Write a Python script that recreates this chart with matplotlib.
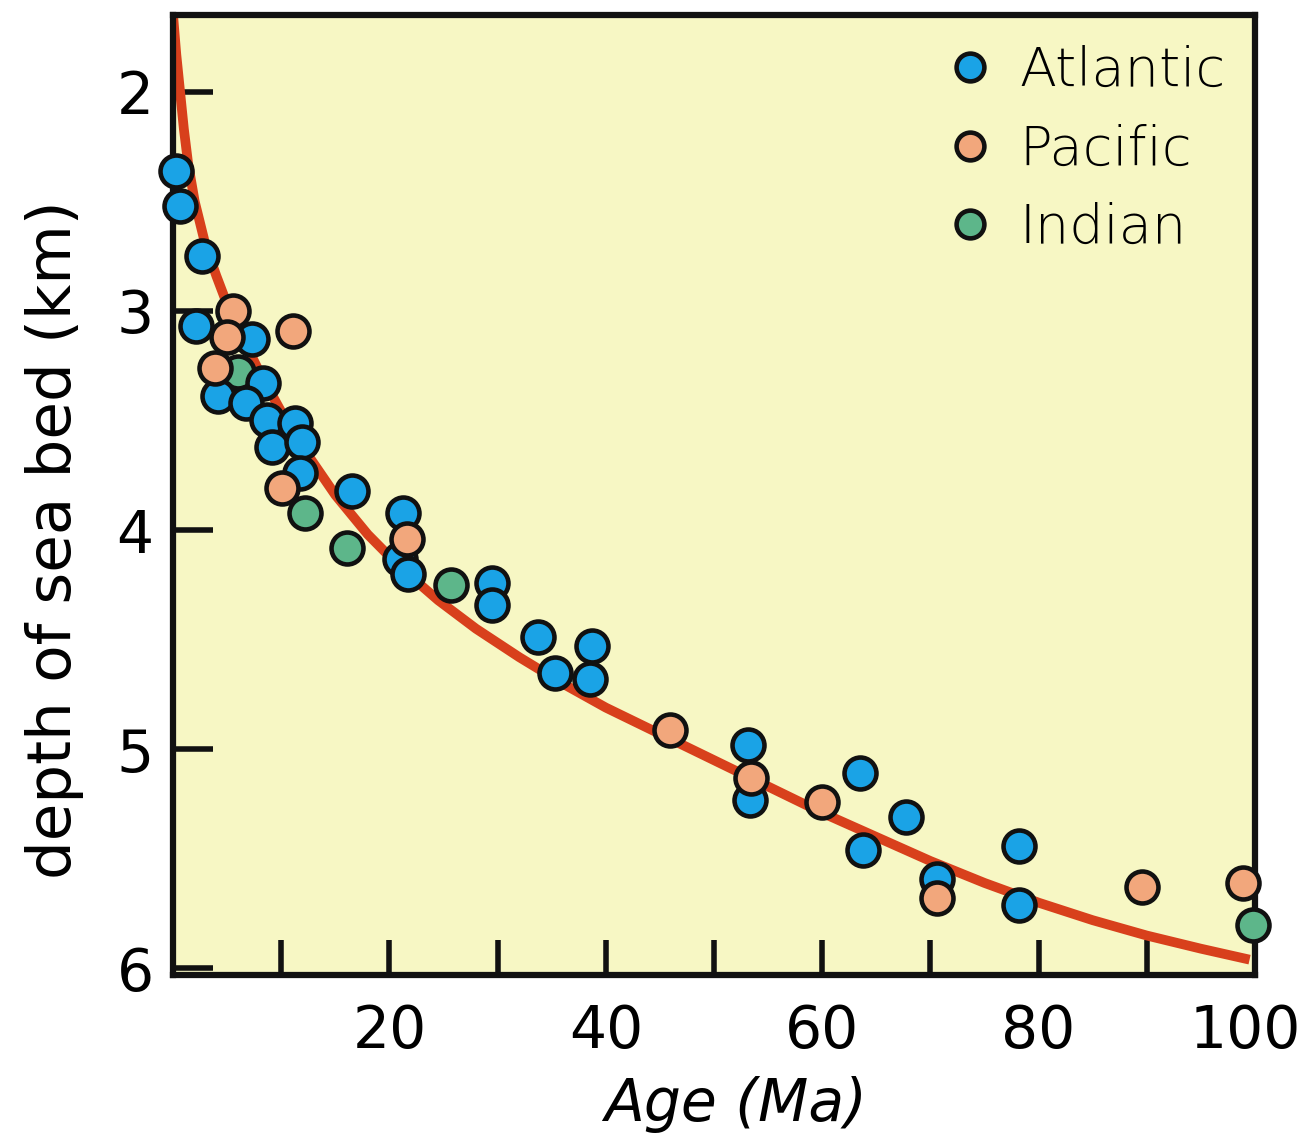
import matplotlib
matplotlib.use("Agg")
import matplotlib.pyplot as plt
import matplotlib.transforms as mtransforms
from matplotlib.lines import Line2D

# ---- data ----
atlantic_age = [0.3, 0.6, 2.7, 2.1, 4.2, 7.3, 8.3, 6.7, 8.7, 11.3, 9.1, 11.9, 11.7,
                16.5, 21.3, 21.0, 21.7, 29.5, 29.5, 33.7, 35.3, 38.7, 38.5,
                53.1, 53.3, 63.5, 67.7, 63.8, 70.6, 78.2, 78.2]
atlantic_depth = [2.36, 2.52, 2.75, 3.07, 3.39, 3.13, 3.33, 3.42, 3.50, 3.51, 3.62, 3.60, 3.74,
                  3.82, 3.92, 4.13, 4.20, 4.24, 4.34, 4.49, 4.65, 4.53, 4.68,
                  4.98, 5.23, 5.11, 5.31, 5.46, 5.59, 5.44, 5.71]

pacific_age = [5.5, 5.0, 3.9, 11.1, 10.1, 21.6, 45.9, 53.4, 60.0, 70.6, 89.6, 98.9]
pacific_depth = [3.00, 3.12, 3.26, 3.09, 3.81, 4.04, 4.91, 5.13, 5.24, 5.68, 5.63, 5.61]

indian_age = [6.0, 12.2, 16.1, 25.7, 99.8]
indian_depth = [3.28, 3.92, 4.08, 4.25, 5.80]

curve_age = [0.0, 0.3, 0.65, 1.0, 1.4, 2.0, 3.0, 4.0, 5.0, 6.5, 8.0, 10.0, 12.5,
             15.0, 18.0, 21.0, 24.5, 28.0, 32.0, 36.0, 40.0, 45.0, 50.0, 55.0,
             60.0, 65.0, 70.0, 75.0, 80.0, 85.0, 90.0, 95.0, 99.5]
curve_depth = [1.65, 1.83, 2.00, 2.17, 2.33, 2.50, 2.70, 2.84, 2.97, 3.13, 3.28, 3.46, 3.66,
               3.84, 4.02, 4.17, 4.32, 4.45, 4.58, 4.70, 4.81, 4.93, 5.05, 5.17,
               5.29, 5.40, 5.51, 5.61, 5.70, 5.78, 5.85, 5.91, 5.96]

x_ticks = [10, 20, 30, 40, 50, 60, 70, 80, 90, 100]
x_ticklabels = ["", "20", "", "40", "", "60", "", "80", "", "100"]
y_ticks = [2, 3, 4, 5, 6]
y_ticklabels = ["2", "3", "4", "5", "6"]

series_names = ["Atlantic", "Pacific", "Indian"]

# ---- style ----
BG = "#F7F7C4"
C_ATL = "#1AA3E6"
C_PAC = "#F2A77C"
C_IND = "#5DB68A"
C_CURVE = "#D8401C"
INK = "#111111"

fig = plt.figure(figsize=(13.07, 11.39), dpi=100)
ax = fig.add_axes([0.1324, 0.144, 0.8278, 0.8428])
ax.set_facecolor(BG)

ax.plot(curve_age, curve_depth, color=C_CURVE, lw=7, solid_capstyle="butt",
        solid_joinstyle="round", zorder=2)

mk = dict(marker="o", ms=23, mec=INK, mew=3.3, ls="none", clip_on=False)
ax.plot(indian_age, indian_depth, mfc=C_IND, zorder=4, **mk)
ax.plot(atlantic_age, atlantic_depth, mfc=C_ATL, zorder=5, **mk)
ax.plot(pacific_age, pacific_depth, mfc=C_PAC, zorder=6, **mk)

ax.set_xlim(0, 100)
ax.set_ylim(6.03, 1.65)

for s in ax.spines.values():
    s.set_linewidth(4.5)
    s.set_color(INK)

ax.set_xticks(x_ticks)
ax.set_xticklabels(x_ticklabels)
ax.set_yticks(y_ticks)
ax.set_yticklabels(y_ticklabels)
ax.tick_params(axis="x", direction="in", length=25, width=4, pad=20,
               labelsize=42, color=INK)
ax.tick_params(axis="y", direction="in", length=29, width=4, pad=14,
               labelsize=42, color=INK)
for lab in ax.get_xticklabels() + ax.get_yticklabels():
    lab.set_family("DejaVu Sans")
# pull the "100" label slightly left so it stays inside the figure
shift = mtransforms.ScaledTranslation(-10 / 100, 0, fig.dpi_scale_trans)
last = ax.get_xticklabels()[-1]
last.set_transform(last.get_transform() + shift)

ax.set_xlabel("Age (Ma)", fontsize=42, style="italic", labelpad=0)
ax.xaxis.set_label_coords(0.52, -0.105)
ax.set_ylabel("depth of sea bed (km)", fontsize=44, fontweight="medium", labelpad=0)
ax.yaxis.set_label_coords(-0.082, 0.453)

handles = [
    Line2D([], [], marker="o", ms=20, mfc=c, mec=INK, mew=3.3, ls="none")
    for c in (C_ATL, C_PAC, C_IND)
]
leg = ax.legend(handles, series_names, loc="upper right", frameon=False,
                prop={"size": 39, "family": "DejaVu Sans", "weight": "light"},
                handletextpad=0.4, labelspacing=0.48, borderaxespad=0.15,
                handlelength=1.0)

fig.savefig("out.png", dpi=100, facecolor="white")
